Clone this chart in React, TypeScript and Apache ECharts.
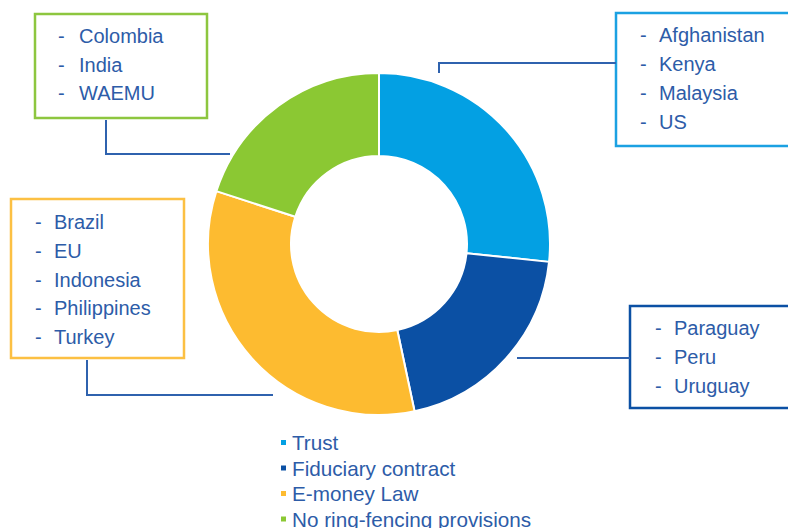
import React, { useEffect, useRef } from "react";
import * as echarts from "echarts";

const categories = ["Trust", "Fiduciary contract", "E-money Law", "No ring-fencing provisions"];
const values = [4, 3, 5, 3];
const colors = ["#03A0E3", "#0B50A4", "#FDBB30", "#8BC833"];

const trustCountries = ["Afghanistan", "Kenya", "Malaysia", "US"];
const fiduciaryCountries = ["Paraguay", "Peru", "Uruguay"];
const emoneyCountries = ["Brazil", "EU", "Indonesia", "Philippines", "Turkey"];
const noRingCountries = ["Colombia", "India", "WAEMU"];

const FONT = '"Liberation Sans", Arial, sans-serif';
const TEXT_COLOR = "#2D5CA8";
const LINE_COLOR = "#2F62AE";

type Box = {
  items: string[];
  border: string;
  x: number; y: number; w: number; h: number;
  dashX: number; textX: number; firstY: number; step: number;
  line: number[][];
};

const boxes: Box[] = [
  { items: noRingCountries, border: "#8DC63F", x: 35, y: 14, w: 172, h: 104, dashX: 58, textX: 79, firstY: 36, step: 28.7, line: [[106, 120], [106, 154], [230, 154]] },
  { items: trustCountries, border: "#1BA1E2", x: 616, y: 13, w: 200, h: 133, dashX: 640, textX: 659, firstY: 35, step: 29, line: [[616, 63], [439, 63], [439, 73]] },
  { items: emoneyCountries, border: "#FCC043", x: 11, y: 199, w: 173, h: 159, dashX: 35, textX: 54, firstY: 222, step: 28.75, line: [[87, 360], [87, 395], [273, 395]] },
  { items: fiduciaryCountries, border: "#0B50A4", x: 630, y: 306, w: 200, h: 102, dashX: 655, textX: 674, firstY: 328, step: 29, line: [[517, 358], [630, 358]] },
];

export default function App() {
  const ref = useRef<HTMLDivElement>(null);
  useEffect(() => {
    if (!ref.current) return;
    const chart = echarts.init(ref.current, null, { renderer: "svg" });
    const graphics: any[] = [];
    boxes.forEach((b) => {
      graphics.push({
        type: "rect",
        shape: { x: b.x, y: b.y, width: b.w, height: b.h },
        style: { fill: "#fff", stroke: b.border, lineWidth: 2.5 },
        silent: true,
      });
      graphics.push({
        type: "polyline",
        shape: { points: b.line },
        style: { stroke: LINE_COLOR, lineWidth: 2, fill: null },
        silent: true,
      });
      b.items.forEach((t, i) => {
        const y = b.firstY + i * b.step;
        graphics.push({
          type: "text",
          x: b.dashX,
          y,
          style: { text: "-", font: `20px ${FONT}`, fill: TEXT_COLOR, verticalAlign: "middle", align: "left" },
          silent: true,
        });
        graphics.push({
          type: "text",
          x: b.textX,
          y,
          style: { text: t, font: `20px ${FONT}`, fill: TEXT_COLOR, verticalAlign: "middle", align: "left" },
          silent: true,
        });
      });
    });

    const legends = categories.map((c, i) => ({
      orient: "vertical",
      left: 279,
      top: 432 + i * 25.5,
      padding: 0,
      icon: "rect",
      itemWidth: 7,
      itemHeight: 7,
      selectedMode: false,
      textStyle: { fontFamily: FONT, fontSize: 20.7, color: TEXT_COLOR },
      data: [c],
    }));

    chart.setOption({
      animation: false,
      color: colors,
      legend: legends,
      graphic: graphics,
      series: [
        {
          type: "pie",
          center: [379, 244],
          radius: [88, 171],
          startAngle: 90,
          clockwise: true,
          label: { show: false },
          labelLine: { show: false },
          emphasis: { disabled: true },
          itemStyle: { borderColor: "#fff", borderWidth: 2 },
          data: categories.map((c, i) => ({ name: c, value: values[i] })),
        },
      ],
    });
    return () => chart.dispose();
  }, []);
  return (
    <div
      ref={ref}
      style={{ position: "fixed", left: 0, top: 0, width: 788, height: 528, background: "#fff" }}
    />
  );
}
